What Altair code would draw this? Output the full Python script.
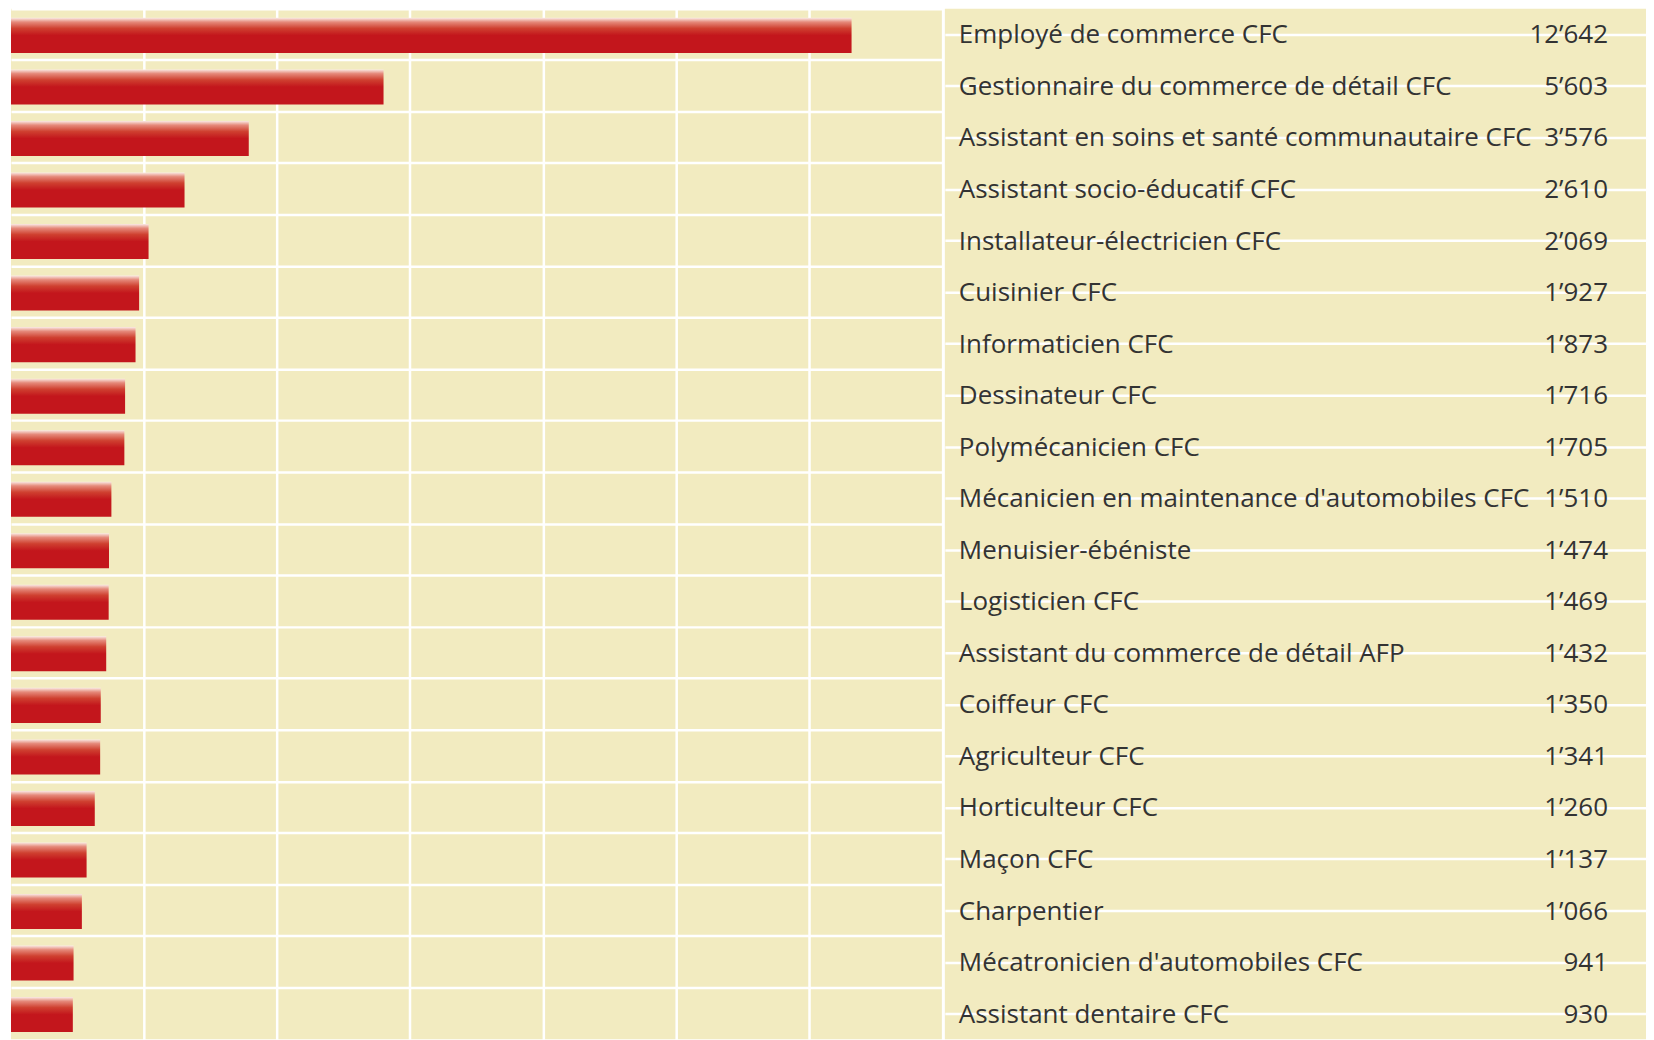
import altair as alt
import pandas as pd

professions = [
    "Employé de commerce CFC",
    "Gestionnaire du commerce de détail CFC",
    "Assistant en soins et santé communautaire CFC",
    "Assistant socio-éducatif CFC",
    "Installateur-électricien CFC",
    "Cuisinier CFC",
    "Informaticien CFC",
    "Dessinateur CFC",
    "Polymécanicien CFC",
    "Mécanicien en maintenance d'automobiles CFC",
    "Menuisier-ébéniste",
    "Logisticien CFC",
    "Assistant du commerce de détail AFP",
    "Coiffeur CFC",
    "Agriculteur CFC",
    "Horticulteur CFC",
    "Maçon CFC",
    "Charpentier",
    "Mécatronicien d'automobiles CFC",
    "Assistant dentaire CFC",
]
counts = [12642, 5603, 3576, 2610, 2069, 1927, 1873, 1716, 1705, 1510,
          1474, 1469, 1432, 1350, 1341, 1260, 1137, 1066, 941, 930]
grid_ticks = [2000, 4000, 6000, 8000, 10000, 12000]

df = pd.DataFrame({
    "metier": professions,
    "n": counts,
    "n_label": [f"{v:,}".replace(",", "\u2019") for v in counts],
})

BG = "#F2EBC0"
FONT = "Open Sans"
H = 1032

y_enc = alt.Y(
    "metier:N", sort=None,
    scale=alt.Scale(paddingInner=0, paddingOuter=0),
    axis=alt.Axis(labels=False, ticks=False, domain=False, title=None,
                  grid=True, gridColor="white", gridWidth=2.5, bandPosition=0),
)

bar_grad = alt.Gradient(
    gradient="linear",
    stops=[
        alt.GradientStop(color="#FAEAE4", offset=0),
        alt.GradientStop(color="#E5897A", offset=0.12),
        alt.GradientStop(color="#CF4030", offset=0.3),
        alt.GradientStop(color="#C3161C", offset=0.5),
        alt.GradientStop(color="#C3161C", offset=1),
    ],
    x1=0, x2=0, y1=0, y2=1,
)

bars = alt.Chart(df).mark_bar(
    color=bar_grad, height={"band": 0.68}, yOffset=1
).encode(
    x=alt.X("n:Q", scale=alt.Scale(domain=[0, 14000], nice=False),
            axis=alt.Axis(values=grid_ticks, labels=False, ticks=False,
                          domain=False, title=None, grid=True,
                          gridColor="white", gridWidth=2.5)),
    y=y_enc,
).properties(width=932, height=H)

labels = alt.Chart(df).mark_text(
    align="left", baseline="middle", font=FONT, fontSize=26, color="#333333", dy=1
).encode(x=alt.value(14), y=y_enc, text="metier:N")

values = alt.Chart(df).mark_text(
    align="right", baseline="middle", font=FONT, fontSize=26, color="#333333", dy=1
).encode(x=alt.value(664), y=y_enc, text="n_label:N")

right = alt.layer(labels, values).properties(width=702, height=H)

chart = alt.hconcat(bars, right, spacing=3).properties(
    padding={"left": 3, "top": 0, "right": 0, "bottom": 0}
).configure_view(
    fill=BG, stroke=None
).configure_axis(
    labels=False
)

chart.save("out.html", embed_options={"renderer": "svg", "actions": False})
